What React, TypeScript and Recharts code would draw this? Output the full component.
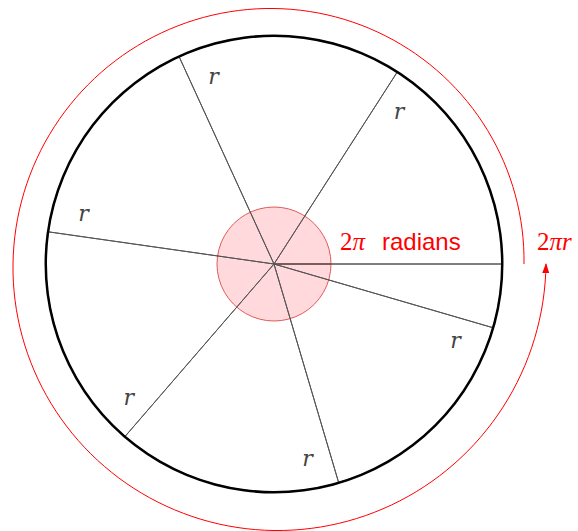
import React from "react";
import { PieChart, Pie, Cell, Customized } from "recharts";

const WIDTH = 578;
const HEIGHT = 531;
const CX = 274;
const CY = 264;
const RADIAN = Math.PI / 180;

// one slice per radian, the last one is what is left of the full turn
const radianSlices = [1, 1, 1, 1, 1, 1, 0.2832];
const radiusLabels = ["r", "r", "r", "r", "r", "r", ""];
const wheel = [{ value: 1 }];
// the red spiral grows from the first radius to the second over one turn
const spiralRadius = [250, 272];

const sliceData = radianSlices.map((v, i) => ({ name: `slice-${i}`, value: v }));

const renderLabel = (props: any) => {
  const { cx, cy, endAngle, index } = props;
  const text = radiusLabels[index];
  if (!text) return null;
  const a = (endAngle - 6.7) * RADIAN;
  const x = cx + 197 * Math.cos(a);
  const y = cy - 197 * Math.sin(a);
  return (
    <text
      x={x}
      y={y}
      textAnchor="middle"
      dominantBaseline="central"
      fill="#444"
      fontFamily="DejaVu Serif"
      fontStyle="italic"
      fontSize={22}
    >
      {text}
    </text>
  );
};

const Spiral = () => {
  const [r0, r1] = spiralRadius;
  const steps = 180;
  let d = "";
  for (let i = 0; i <= steps; i++) {
    const t = i / steps;
    const a = t * 2 * Math.PI;
    const r = r0 + (r1 - r0) * t;
    const x = CX + r * Math.cos(a);
    const y = CY - r * Math.sin(a);
    d += `${i === 0 ? "M" : "L"}${x.toFixed(2)},${y.toFixed(2)}`;
  }
  return (
    <g>
      <defs>
        <marker
          id="arrow"
          markerWidth={10}
          markerHeight={8}
          refX={9}
          refY={3.5}
          orient="auto"
          markerUnits="userSpaceOnUse"
        >
          <path d="M0,0 L10,3.5 L0,7 z" fill="#ff0000" />
        </marker>
      </defs>
      <path d={d} fill="none" stroke="#ff0000" strokeWidth={1} markerEnd="url(#arrow)" />
      <text x={340} y={250} fill="#ff0000" fontSize={25}>
        <tspan fontFamily="Liberation Serif">2</tspan>
        <tspan fontFamily="Liberation Serif" fontStyle="italic">π</tspan>
        <tspan x={382} fontFamily="Liberation Sans" fontSize={24}>radians</tspan>
      </text>
      <text x={537} y={250} fill="#ff0000" fontSize={25} fontFamily="Liberation Serif">
        <tspan>2</tspan>
        <tspan fontStyle="italic">πr</tspan>
      </text>
    </g>
  );
};

export default function App() {
  return (
    <div style={{ position: "absolute", left: 0, top: 0, width: WIDTH, height: HEIGHT, background: "#fff" }}>
      <PieChart width={WIDTH} height={HEIGHT} margin={{ top: 0, right: 0, bottom: 0, left: 0 }}>
        <Pie
          data={wheel}
          dataKey="value"
          cx={CX}
          cy={CY}
          innerRadius={0}
          outerRadius={57}
          startAngle={0}
          endAngle={360}
          isAnimationActive={false}
        >
          <Cell fill="#ffd9dc" stroke="#e05a5a" strokeWidth={1} />
        </Pie>
        <Pie
          data={sliceData}
          dataKey="value"
          cx={CX}
          cy={CY}
          innerRadius={0}
          outerRadius={228}
          startAngle={0}
          endAngle={360}
          paddingAngle={0}
          label={renderLabel}
          labelLine={false}
          isAnimationActive={false}
        >
          {sliceData.map((_e, i) => (
            <Cell key={`cell-${i}`} fill="none" stroke="#555" strokeWidth={1} />
          ))}
        </Pie>
        <Pie
          data={wheel}
          dataKey="value"
          cx={CX}
          cy={CY}
          innerRadius={227}
          outerRadius={229.5}
          startAngle={0}
          endAngle={360}
          isAnimationActive={false}
        >
          <Cell fill="#000" stroke="none" />
        </Pie>
        <Customized component={Spiral} />
      </PieChart>
    </div>
  );
}
